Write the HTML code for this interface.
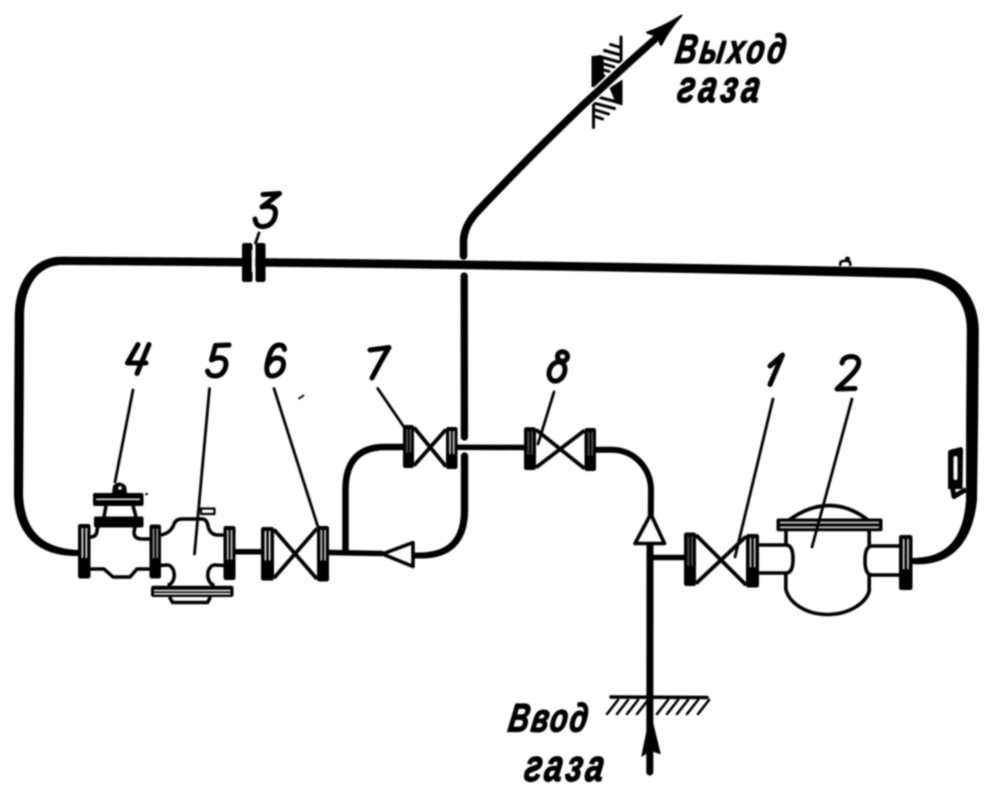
<!DOCTYPE html>
<html><head><meta charset="utf-8"><style>
html,body{margin:0;padding:0;background:#fff;width:1000px;height:800px;overflow:hidden;position:relative}
#clip{position:relative;width:1000px;height:800px;overflow:hidden}
#wrap{position:absolute;left:0;top:0;width:2000px;height:1600px;transform:scale(0.5);transform-origin:0 0;will-change:transform}
#wrap svg{display:block;filter:blur(1.4px)}
text{font-family:"Liberation Sans",sans-serif}
</style></head><body>
<div id="clip"><div id="wrap"><svg width="2000" height="1600" viewBox="0 0 1000 800">
<rect width="1000" height="800" fill="#fff"/>
<g>
<g fill="none" stroke="#000" stroke-linecap="round" stroke-linejoin="round">
</g>
<path d="M80.00,550.00 L79.00,549.98 L78.05,549.95 L76.13,549.85 L74.24,549.72 L72.38,549.55 L70.57,549.36 L68.79,549.13 L67.05,548.87 L65.34,548.57 L63.68,548.25 L62.05,547.89 L60.46,547.51 L58.90,547.09 L57.39,546.64 L55.91,546.16 L54.46,545.65 L53.06,545.11 L51.69,544.55 L50.35,543.96 L49.05,543.34 L47.78,542.70 L46.55,542.02 L45.36,541.32 L44.20,540.58 L43.07,539.82 L41.97,539.03 L40.91,538.21 L39.89,537.35 L38.89,536.47 L37.93,535.56 L37.00,534.62 L36.10,533.65 L35.23,532.65 L34.39,531.61 L33.58,530.55 L32.81,529.45 L32.06,528.32 L31.34,527.16 L30.65,525.97 L30.00,524.74 L29.37,523.48 L28.77,522.19 L28.21,520.86 L27.67,519.50 L27.16,518.10 L26.69,516.67 L26.24,515.20 L25.83,513.69 L25.42,512.16 L25.04,510.59 L24.69,508.98 L24.38,507.34 L24.09,505.66 L23.84,503.94 L23.61,502.19 L23.42,500.40 L23.26,498.57 L23.14,496.70 L23.04,494.89 L23.06,493.01 L23.07,491.00 L23.09,488.99 L23.10,486.98 L23.12,484.97 L23.13,482.96 L23.15,480.94 L23.16,478.93 L23.18,476.92 L23.19,474.91 L23.20,472.90 L23.22,470.89 L23.23,468.88 L23.25,466.86 L23.26,464.85 L23.28,462.84 L23.29,460.83 L23.31,458.82 L23.32,456.81 L23.34,454.80 L23.35,452.78 L23.37,450.77 L23.38,448.76 L23.39,446.75 L23.41,444.74 L23.42,442.73 L23.44,440.72 L23.45,438.71 L23.47,436.69 L23.48,434.68 L23.50,432.67 L23.51,430.66 L23.53,428.65 L23.54,426.64 L23.56,424.63 L23.57,422.61 L23.58,420.60 L23.60,418.59 L23.61,416.58 L23.63,414.57 L23.64,412.56 L23.66,410.55 L23.67,408.54 L23.69,406.52 L23.70,404.51 L23.72,402.50 L23.73,400.49 L23.74,398.48 L23.75,396.47 L23.75,394.46 L23.76,392.44 L23.77,390.43 L23.78,388.42 L23.79,386.41 L23.79,384.40 L23.80,382.39 L23.81,380.38 L23.82,378.36 L23.82,376.35 L23.83,374.34 L23.84,372.33 L23.85,370.32 L23.86,368.31 L23.86,366.30 L23.87,364.29 L23.88,362.27 L23.89,360.26 L23.89,358.25 L23.90,356.24 L23.91,354.23 L23.92,352.22 L23.93,350.21 L23.93,348.19 L23.94,346.18 L23.95,344.17 L23.96,342.16 L23.96,340.15 L23.97,338.14 L23.98,336.13 L23.99,334.11 L24.00,332.10 L24.00,330.09 L24.01,328.08 L24.02,326.07 L24.03,324.06 L24.03,322.05 L24.04,320.04 L24.05,318.01 L24.04,315.81 L24.07,313.71 L24.15,311.64 L24.28,309.61 L24.45,307.60 L24.68,305.64 L24.94,303.70 L25.25,301.81 L25.61,299.95 L26.01,298.13 L26.45,296.35 L26.94,294.61 L27.47,292.91 L28.04,291.26 L28.65,289.65 L29.30,288.09 L29.99,286.57 L30.71,285.09 L31.48,283.67 L32.28,282.29 L33.12,280.96 L34.00,279.68 L34.91,278.45 L35.86,277.27 L36.84,276.14 L37.85,275.06 L38.90,274.03 L39.98,273.05 L41.10,272.13 L42.25,271.26 L43.43,270.44 L44.65,269.68 L45.90,268.97 L47.18,268.31 L48.50,267.71 L49.86,267.17 L51.25,266.68 L52.68,266.25 L54.14,265.88 L55.64,265.57 L57.18,265.32 L58.76,265.13 L60.38,265.01 L62.04,264.95 L63.98,264.96 L65.98,264.98 L67.98,264.99 L69.98,265.00 L71.99,265.02 L73.99,265.03 L75.99,265.04 L77.99,265.06 L79.99,265.07 L82.00,265.08 L84.00,265.10 L86.00,265.11 L88.00,265.13 L90.01,265.14 L92.01,265.15 L94.01,265.17 L96.01,265.18 L98.01,265.20 L100.02,265.21 L102.02,265.23 L104.02,265.24 L106.02,265.26 L108.02,265.27 L110.03,265.29 L112.03,265.30 L114.03,265.32 L116.03,265.33 L118.04,265.35 L120.04,265.36 L122.04,265.38 L124.04,265.39 L126.04,265.41 L128.05,265.42 L130.05,265.44 L132.05,265.45 L134.05,265.47 L136.06,265.49 L138.06,265.50 L140.06,265.52 L142.06,265.53 L144.06,265.55 L146.07,265.57 L148.07,265.58 L150.07,265.60 L152.07,265.62 L154.07,265.63 L156.08,265.65 L158.08,265.67 L160.08,265.68 L162.08,265.70 L164.09,265.72 L166.09,265.73 L168.09,265.75 L170.09,265.77 L172.09,265.79 L174.10,265.80 L176.10,265.82 L178.10,265.84 L180.10,265.86 L182.11,265.87 L184.11,265.89 L186.11,265.91 L188.11,265.93 L190.11,265.95 L192.12,265.96 L194.12,265.98 L196.12,266.00 L198.12,266.02 L200.12,266.04 L202.13,266.05 L204.13,266.07 L206.13,266.09 L208.13,266.11 L210.14,266.13 L212.14,266.15 L214.14,266.17 L216.14,266.19 L218.14,266.21 L220.15,266.22 L222.15,266.24 L224.15,266.26 L226.15,266.28 L228.16,266.30 L230.16,266.32 L232.16,266.34 L234.16,266.36 L236.16,266.38 L238.17,266.40 L240.17,266.42 L242.17,266.44 L244.17,266.46 L246.17,266.48 L248.18,266.50 L250.18,266.52 L252.18,266.54 L254.18,266.56 L256.19,266.58 L258.19,266.60 L260.19,266.62 L262.19,266.65 L264.19,266.67 L266.20,266.69 L268.20,266.71 L270.20,266.73 L272.20,266.75 L274.21,266.77 L276.21,266.79 L278.21,266.82 L280.21,266.84 L282.21,266.86 L284.22,266.88 L286.22,266.90 L288.22,266.92 L290.22,266.95 L292.22,266.97 L294.23,266.99 L296.23,267.01 L298.23,267.03 L300.23,267.06 L302.24,267.08 L304.24,267.10 L306.24,267.12 L308.24,267.15 L310.24,267.17 L312.25,267.19 L314.25,267.22 L316.25,267.24 L318.25,267.26 L320.26,267.29 L322.26,267.31 L324.26,267.33 L326.26,267.36 L328.26,267.38 L330.27,267.40 L332.27,267.43 L334.27,267.45 L336.27,267.47 L338.27,267.50 L340.28,267.52 L342.28,267.55 L344.28,267.57 L346.28,267.59 L348.29,267.62 L350.29,267.64 L352.29,267.67 L354.29,267.69 L356.29,267.72 L358.30,267.74 L360.30,267.77 L362.30,267.79 L364.30,267.82 L366.31,267.84 L368.31,267.87 L370.31,267.89 L372.31,267.92 L374.31,267.94 L376.32,267.97 L378.32,267.99 L380.32,268.02 L382.32,268.05 L384.32,268.07 L386.33,268.10 L388.33,268.12 L390.33,268.15 L392.33,268.17 L394.34,268.20 L396.34,268.23 L398.34,268.25 L400.34,268.28 L402.34,268.31 L404.35,268.33 L406.35,268.36 L408.35,268.39 L410.35,268.41 L412.36,268.44 L414.36,268.47 L416.36,268.49 L418.36,268.52 L420.36,268.55 L422.37,268.58 L424.37,268.60 L426.37,268.63 L428.37,268.66 L430.37,268.69 L432.38,268.71 L434.38,268.74 L436.38,268.77 L438.38,268.80 L440.39,268.82 L442.39,268.85 L444.39,268.88 L446.39,268.91 L448.39,268.94 L450.40,268.97 L452.40,268.99 L454.40,269.02 L456.40,269.05 L458.40,269.08 L460.41,269.11 L462.41,269.14 L464.41,269.17 L466.41,269.19 L468.42,269.22 L470.42,269.25 L472.42,269.28 L474.42,269.31 L476.42,269.34 L478.43,269.37 L480.43,269.40 L482.43,269.43 L484.43,269.46 L486.44,269.49 L488.44,269.52 L490.44,269.55 L492.44,269.58 L494.44,269.61 L496.45,269.64 L498.45,269.67 L500.45,269.70 L502.45,269.73 L504.45,269.76 L506.46,269.79 L508.46,269.82 L510.46,269.85 L512.46,269.88 L514.47,269.91 L516.47,269.94 L518.47,269.98 L520.47,270.01 L522.47,270.04 L524.48,270.07 L526.48,270.10 L528.48,270.13 L530.48,270.16 L532.48,270.19 L534.49,270.23 L536.49,270.26 L538.49,270.29 L540.49,270.32 L542.50,270.35 L544.50,270.39 L546.50,270.42 L548.50,270.45 L550.50,270.48 L552.51,270.51 L554.51,270.55 L556.51,270.58 L558.51,270.61 L560.52,270.64 L562.52,270.68 L564.52,270.71 L566.52,270.74 L568.52,270.78 L570.53,270.81 L572.53,270.84 L574.53,270.88 L576.53,270.91 L578.53,270.94 L580.54,270.98 L582.54,271.01 L584.54,271.04 L586.54,271.08 L588.55,271.11 L590.55,271.14 L592.55,271.18 L594.55,271.21 L596.55,271.25 L598.56,271.28 L600.56,271.31 L602.56,271.35 L604.56,271.39 L606.56,271.42 L608.57,271.46 L610.57,271.50 L612.57,271.53 L614.57,271.57 L616.58,271.61 L618.58,271.64 L620.58,271.68 L622.58,271.72 L624.58,271.75 L626.59,271.79 L628.59,271.83 L630.59,271.87 L632.59,271.90 L634.59,271.94 L636.60,271.98 L638.60,272.02 L640.60,272.05 L642.60,272.09 L644.61,272.13 L646.61,272.17 L648.61,272.21 L650.61,272.24 L652.61,272.28 L654.62,272.32 L656.62,272.36 L658.62,272.40 L660.62,272.44 L662.62,272.48 L664.63,272.51 L666.63,272.55 L668.63,272.59 L670.63,272.63 L672.63,272.67 L674.64,272.71 L676.64,272.75 L678.64,272.79 L680.64,272.83 L682.65,272.87 L684.65,272.91 L686.65,272.95 L688.65,272.98 L690.65,273.02 L692.66,273.06 L694.66,273.10 L696.66,273.14 L698.66,273.18 L700.66,273.22 L702.67,273.26 L704.67,273.30 L706.67,273.35 L708.67,273.39 L710.67,273.43 L712.68,273.47 L714.68,273.51 L716.68,273.55 L718.68,273.59 L720.69,273.63 L722.69,273.67 L724.69,273.71 L726.69,273.75 L728.69,273.79 L730.70,273.84 L732.70,273.88 L734.70,273.92 L736.70,273.96 L738.70,274.00 L740.71,274.04 L742.71,274.09 L744.71,274.13 L746.71,274.17 L748.72,274.21 L750.72,274.25 L752.72,274.30 L754.72,274.34 L756.72,274.38 L758.73,274.42 L760.73,274.46 L762.73,274.51 L764.73,274.55 L766.73,274.59 L768.74,274.64 L770.74,274.68 L772.74,274.72 L774.74,274.76 L776.74,274.81 L778.75,274.85 L780.75,274.89 L782.75,274.94 L784.75,274.98 L786.76,275.02 L788.76,275.07 L790.76,275.11 L792.76,275.15 L794.76,275.20 L796.77,275.24 L798.77,275.29 L800.77,275.33 L802.77,275.38 L804.77,275.42 L806.78,275.47 L808.78,275.52 L810.78,275.56 L812.78,275.61 L814.78,275.66 L816.79,275.70 L818.79,275.75 L820.79,275.80 L822.79,275.84 L824.79,275.89 L826.80,275.94 L828.80,275.99 L830.80,276.03 L832.80,276.08 L834.80,276.13 L836.81,276.18 L838.81,276.22 L840.81,276.27 L842.81,276.32 L844.81,276.37 L846.82,276.42 L848.82,276.46 L850.82,276.51 L852.82,276.56 L854.83,276.61 L856.83,276.66 L858.83,276.71 L860.83,276.76 L862.83,276.80 L864.84,276.85 L866.84,276.90 L868.84,276.95 L870.84,277.00 L872.84,277.05 L874.85,277.10 L876.85,277.15 L878.85,277.20 L880.85,277.25 L882.85,277.30 L884.86,277.35 L886.86,277.40 L888.86,277.44 L890.86,277.49 L892.86,277.54 L894.87,277.59 L896.87,277.64 L898.87,277.69 L900.87,277.75 L902.87,277.80 L904.88,277.85 L906.88,277.90 L908.88,277.95 L910.88,278.00 L912.88,278.05 L914.81,278.10 L916.47,278.21 L918.15,278.36 L919.83,278.53 L921.49,278.75 L923.14,278.99 L924.77,279.27 L926.39,279.58 L927.98,279.93 L929.56,280.31 L931.11,280.72 L932.65,281.17 L934.16,281.66 L935.65,282.18 L937.11,282.73 L938.55,283.32 L939.96,283.95 L941.34,284.61 L942.70,285.31 L944.02,286.04 L945.32,286.81 L946.58,287.62 L947.81,288.46 L949.01,289.34 L950.18,290.26 L951.31,291.22 L952.41,292.21 L953.48,293.25 L954.51,294.32 L955.50,295.44 L956.46,296.60 L957.38,297.80 L958.27,299.05 L959.11,300.34 L959.92,301.67 L960.69,303.05 L961.42,304.48 L962.11,305.96 L962.75,307.49 L963.36,309.07 L963.91,310.70 L964.43,312.38 L964.90,314.12 L965.32,315.92 L965.69,317.77 L966.01,319.68 L966.28,321.65 L966.49,323.67 L966.65,325.76 L966.75,327.91 L966.80,330.09 L966.78,331.95 L966.77,333.95 L966.75,335.95 L966.74,337.95 L966.72,339.95 L966.71,341.95 L966.69,343.95 L966.68,345.95 L966.66,347.95 L966.65,349.95 L966.63,351.95 L966.62,353.95 L966.60,355.95 L966.59,357.95 L966.57,359.95 L966.56,361.95 L966.54,363.95 L966.52,365.95 L966.51,367.95 L966.49,369.95 L966.48,371.95 L966.46,373.95 L966.45,375.95 L966.43,377.95 L966.42,379.95 L966.40,381.95 L966.39,383.95 L966.37,385.95 L966.36,387.95 L966.34,389.95 L966.33,391.95 L966.31,393.95 L966.30,395.95 L966.28,397.95 L966.26,399.95 L966.25,401.95 L966.23,403.95 L966.22,405.95 L966.20,407.95 L966.19,409.95 L966.17,411.95 L966.16,413.95 L966.14,415.95 L966.13,417.95 L966.11,419.95 L966.11,421.95 L966.11,423.95 L966.10,425.95 L966.10,427.95 L966.10,429.95 L966.10,431.95 L966.09,433.95 L966.09,435.95 L966.09,437.95 L966.08,439.96 L966.08,441.96 L966.08,443.96 L966.08,445.96 L966.07,447.96 L966.07,449.96 L966.07,451.96 L966.06,453.96 L966.06,455.96 L966.06,457.96 L966.06,459.96 L966.05,461.96 L966.05,463.96 L966.05,465.96 L966.04,467.96 L966.04,469.96 L966.04,471.96 L966.04,473.96 L966.03,475.96 L966.03,477.96 L966.03,479.96 L966.03,481.96 L966.02,483.96 L966.02,485.96 L966.02,487.96 L966.01,489.96 L966.01,491.96 L966.01,493.96 L966.01,495.96 L966.00,497.96 L966.01,499.71 L965.87,501.59 L965.69,503.63 L965.49,505.63 L965.25,507.59 L964.99,509.51 L964.70,511.39 L964.38,513.23 L964.04,515.03 L963.66,516.79 L963.27,518.51 L962.84,520.19 L962.39,521.83 L961.91,523.43 L961.40,524.99 L960.87,526.51 L960.32,527.99 L959.73,529.43 L959.12,530.83 L958.49,532.19 L957.83,533.52 L957.14,534.80 L956.43,536.05 L955.70,537.26 L954.94,538.43 L954.15,539.57 L953.34,540.67 L952.50,541.73 L951.64,542.76 L950.75,543.75 L949.84,544.70 L948.90,545.62 L947.93,546.51 L946.94,547.36 L945.92,548.19 L944.88,548.97 L943.80,549.73 L942.70,550.45 L941.57,551.14 L940.40,551.79 L939.21,552.42 L937.99,553.01 L936.74,553.56 L935.45,554.08 L934.14,554.57 L932.79,555.03 L931.41,555.45 L929.99,555.84 L928.55,556.19 L927.07,556.51 L925.56,556.79 L924.02,557.04 L922.44,557.27 L920.83,557.46 L919.19,557.62 L917.51,557.75 L915.80,557.84 L914.01,557.89 L912.50,557.94 L911.00,558.00 A3.00,3.00 0 0 0 911.00,564.00 L911.00,564.00 L912.50,564.06 L913.99,564.11 L915.82,564.19 L917.67,564.24 L919.50,564.24 L921.31,564.20 L923.09,564.11 L924.85,563.99 L926.58,563.80 L928.29,563.57 L929.97,563.30 L931.63,562.99 L933.27,562.63 L934.88,562.23 L936.47,561.79 L938.03,561.30 L939.56,560.77 L941.07,560.19 L942.55,559.57 L944.01,558.90 L945.43,558.19 L946.83,557.44 L948.21,556.64 L949.55,555.80 L950.87,554.91 L952.15,553.98 L953.41,553.01 L954.63,551.99 L955.82,550.92 L956.98,549.81 L958.11,548.66 L959.21,547.47 L960.28,546.24 L961.31,544.96 L962.31,543.65 L963.28,542.29 L964.22,540.90 L965.13,539.46 L966.00,537.99 L966.84,536.47 L967.66,534.92 L968.43,533.33 L969.18,531.70 L969.90,530.03 L970.58,528.32 L971.24,526.58 L971.86,524.80 L972.45,522.98 L973.01,521.12 L973.54,519.23 L974.04,517.29 L974.51,515.32 L974.96,513.32 L975.37,511.27 L975.75,509.19 L976.10,507.07 L976.42,504.91 L976.71,502.72 L976.99,500.29 L977.03,498.04 L977.06,496.04 L977.08,494.04 L977.11,492.04 L977.14,490.04 L977.17,488.04 L977.19,486.04 L977.22,484.04 L977.25,482.04 L977.28,480.04 L977.31,478.04 L977.33,476.04 L977.36,474.04 L977.39,472.04 L977.42,470.04 L977.44,468.04 L977.47,466.04 L977.50,464.04 L977.53,462.04 L977.56,460.04 L977.58,458.04 L977.61,456.04 L977.64,454.04 L977.67,452.04 L977.69,450.04 L977.72,448.04 L977.75,446.04 L977.78,444.04 L977.81,442.04 L977.83,440.04 L977.86,438.05 L977.89,436.05 L977.92,434.05 L977.94,432.05 L977.97,430.05 L978.00,428.05 L978.03,426.05 L978.06,424.05 L978.08,422.05 L978.11,420.05 L978.13,418.05 L978.14,416.05 L978.16,414.05 L978.17,412.05 L978.19,410.05 L978.20,408.05 L978.22,406.05 L978.23,404.05 L978.25,402.05 L978.26,400.05 L978.28,398.05 L978.30,396.05 L978.31,394.05 L978.33,392.05 L978.34,390.05 L978.36,388.05 L978.37,386.05 L978.39,384.05 L978.40,382.05 L978.42,380.05 L978.43,378.05 L978.45,376.05 L978.46,374.05 L978.48,372.05 L978.49,370.05 L978.51,368.05 L978.52,366.05 L978.54,364.05 L978.56,362.05 L978.57,360.05 L978.59,358.05 L978.60,356.05 L978.62,354.05 L978.63,352.05 L978.65,350.05 L978.66,348.05 L978.68,346.05 L978.69,344.05 L978.71,342.05 L978.72,340.05 L978.74,338.05 L978.75,336.05 L978.77,334.05 L978.78,332.05 L978.80,329.91 L978.69,327.35 L978.51,324.87 L978.27,322.45 L977.96,320.08 L977.59,317.77 L977.15,315.51 L976.66,313.31 L976.10,311.16 L975.48,309.06 L974.81,307.02 L974.07,305.03 L973.28,303.09 L972.43,301.21 L971.53,299.39 L970.58,297.62 L969.57,295.90 L968.51,294.24 L967.40,292.63 L966.24,291.08 L965.04,289.59 L963.79,288.15 L962.50,286.76 L961.17,285.43 L959.80,284.15 L958.39,282.93 L956.94,281.76 L955.46,280.65 L953.95,279.59 L952.41,278.58 L950.84,277.62 L949.23,276.71 L947.61,275.85 L945.95,275.05 L944.28,274.29 L942.58,273.57 L940.86,272.91 L939.12,272.29 L937.36,271.72 L935.59,271.19 L933.79,270.71 L931.99,270.27 L930.17,269.87 L928.33,269.51 L926.49,269.19 L924.63,268.92 L922.77,268.68 L920.90,268.48 L919.01,268.32 L917.13,268.19 L915.19,268.10 L913.11,268.06 L911.11,268.02 L909.11,267.98 L907.10,267.94 L905.10,267.90 L903.10,267.86 L901.10,267.82 L899.09,267.78 L897.09,267.74 L895.09,267.70 L893.08,267.66 L891.08,267.62 L889.08,267.58 L887.08,267.55 L885.07,267.51 L883.07,267.47 L881.07,267.43 L879.07,267.39 L877.06,267.35 L875.06,267.31 L873.06,267.27 L871.06,267.23 L869.05,267.20 L867.05,267.16 L865.05,267.12 L863.04,267.08 L861.04,267.04 L859.04,267.00 L857.04,266.97 L855.03,266.93 L853.03,266.89 L851.03,266.85 L849.03,266.81 L847.02,266.78 L845.02,266.74 L843.02,266.70 L841.02,266.66 L839.01,266.63 L837.01,266.59 L835.01,266.55 L833.00,266.52 L831.00,266.48 L829.00,266.44 L827.00,266.40 L824.99,266.37 L822.99,266.33 L820.99,266.29 L818.99,266.26 L816.98,266.22 L814.98,266.18 L812.98,266.15 L810.98,266.11 L808.97,266.08 L806.97,266.04 L804.97,266.00 L802.97,265.97 L800.96,265.93 L798.96,265.89 L796.96,265.86 L794.95,265.82 L792.95,265.78 L790.95,265.74 L788.95,265.71 L786.94,265.67 L784.94,265.63 L782.94,265.59 L780.94,265.56 L778.93,265.52 L776.93,265.48 L774.93,265.44 L772.93,265.41 L770.92,265.37 L768.92,265.33 L766.92,265.30 L764.92,265.26 L762.91,265.22 L760.91,265.19 L758.91,265.15 L756.91,265.11 L754.90,265.08 L752.90,265.04 L750.90,265.00 L748.90,264.97 L746.89,264.93 L744.89,264.90 L742.89,264.86 L740.88,264.83 L738.88,264.79 L736.88,264.75 L734.88,264.72 L732.87,264.68 L730.87,264.65 L728.87,264.61 L726.87,264.58 L724.86,264.54 L722.86,264.51 L720.86,264.47 L718.86,264.44 L716.85,264.40 L714.85,264.37 L712.85,264.33 L710.85,264.30 L708.84,264.26 L706.84,264.23 L704.84,264.19 L702.84,264.16 L700.83,264.13 L698.83,264.09 L696.83,264.06 L694.83,264.02 L692.82,263.99 L690.82,263.96 L688.82,263.92 L686.82,263.89 L684.81,263.86 L682.81,263.82 L680.81,263.79 L678.80,263.75 L676.80,263.72 L674.80,263.69 L672.80,263.66 L670.79,263.62 L668.79,263.59 L666.79,263.56 L664.79,263.52 L662.78,263.49 L660.78,263.46 L658.78,263.43 L656.78,263.39 L654.77,263.36 L652.77,263.33 L650.77,263.30 L648.77,263.26 L646.76,263.23 L644.76,263.20 L642.76,263.17 L640.76,263.14 L638.75,263.10 L636.75,263.07 L634.75,263.04 L632.75,263.01 L630.74,262.98 L628.74,262.95 L626.74,262.92 L624.74,262.88 L622.73,262.85 L620.73,262.82 L618.73,262.79 L616.73,262.76 L614.72,262.73 L612.72,262.70 L610.72,262.67 L608.71,262.64 L606.71,262.61 L604.71,262.58 L602.71,262.55 L600.70,262.52 L598.70,262.48 L596.70,262.45 L594.70,262.42 L592.69,262.39 L590.69,262.35 L588.69,262.32 L586.69,262.29 L584.68,262.26 L582.68,262.23 L580.68,262.20 L578.68,262.17 L576.67,262.13 L574.67,262.10 L572.67,262.07 L570.67,262.04 L568.66,262.01 L566.66,261.98 L564.66,261.95 L562.66,261.92 L560.65,261.89 L558.65,261.86 L556.65,261.82 L554.65,261.79 L552.64,261.76 L550.64,261.73 L548.64,261.70 L546.64,261.67 L544.63,261.64 L542.63,261.61 L540.63,261.58 L538.63,261.55 L536.62,261.52 L534.62,261.49 L532.62,261.46 L530.62,261.43 L528.61,261.40 L526.61,261.38 L524.61,261.35 L522.61,261.32 L520.60,261.29 L518.60,261.26 L516.60,261.23 L514.60,261.20 L512.59,261.17 L510.59,261.14 L508.59,261.11 L506.59,261.09 L504.58,261.06 L502.58,261.03 L500.58,261.00 L498.58,260.97 L496.57,260.94 L494.57,260.92 L492.57,260.89 L490.57,260.86 L488.56,260.83 L486.56,260.80 L484.56,260.78 L482.56,260.75 L480.55,260.72 L478.55,260.69 L476.55,260.67 L474.54,260.64 L472.54,260.61 L470.54,260.58 L468.54,260.56 L466.53,260.53 L464.53,260.50 L462.53,260.48 L460.53,260.45 L458.52,260.42 L456.52,260.40 L454.52,260.37 L452.52,260.34 L450.51,260.32 L448.51,260.29 L446.51,260.26 L444.51,260.24 L442.50,260.21 L440.50,260.18 L438.50,260.16 L436.50,260.13 L434.49,260.11 L432.49,260.08 L430.49,260.06 L428.49,260.03 L426.48,260.00 L424.48,259.98 L422.48,259.95 L420.48,259.93 L418.47,259.90 L416.47,259.88 L414.47,259.85 L412.47,259.83 L410.46,259.80 L408.46,259.78 L406.46,259.75 L404.46,259.73 L402.45,259.71 L400.45,259.68 L398.45,259.66 L396.45,259.63 L394.44,259.61 L392.44,259.58 L390.44,259.56 L388.44,259.54 L386.43,259.51 L384.43,259.49 L382.43,259.46 L380.43,259.44 L378.42,259.42 L376.42,259.39 L374.42,259.37 L372.42,259.35 L370.41,259.32 L368.41,259.30 L366.41,259.28 L364.41,259.25 L362.40,259.23 L360.40,259.21 L358.40,259.18 L356.40,259.16 L354.39,259.14 L352.39,259.12 L350.39,259.09 L348.39,259.07 L346.38,259.05 L344.38,259.03 L342.38,259.01 L340.38,258.98 L338.37,258.96 L336.37,258.94 L334.37,258.92 L332.37,258.90 L330.36,258.87 L328.36,258.85 L326.36,258.83 L324.36,258.81 L322.35,258.79 L320.35,258.77 L318.35,258.74 L316.35,258.72 L314.34,258.70 L312.34,258.68 L310.34,258.66 L308.34,258.64 L306.33,258.62 L304.33,258.60 L302.33,258.58 L300.33,258.56 L298.32,258.54 L296.32,258.52 L294.32,258.50 L292.31,258.47 L290.31,258.45 L288.31,258.43 L286.31,258.41 L284.30,258.39 L282.30,258.37 L280.30,258.35 L278.30,258.33 L276.29,258.31 L274.29,258.29 L272.29,258.28 L270.29,258.26 L268.28,258.24 L266.28,258.22 L264.28,258.20 L262.28,258.18 L260.27,258.16 L258.27,258.14 L256.27,258.12 L254.27,258.10 L252.26,258.08 L250.26,258.06 L248.26,258.05 L246.26,258.03 L244.25,258.01 L242.25,257.99 L240.25,257.97 L238.25,257.95 L236.24,257.94 L234.24,257.92 L232.24,257.90 L230.24,257.88 L228.23,257.86 L226.23,257.85 L224.23,257.83 L222.23,257.81 L220.22,257.79 L218.22,257.77 L216.22,257.76 L214.22,257.74 L212.21,257.72 L210.21,257.71 L208.21,257.69 L206.21,257.67 L204.20,257.65 L202.20,257.64 L200.20,257.62 L198.20,257.60 L196.19,257.59 L194.19,257.57 L192.19,257.55 L190.19,257.54 L188.18,257.52 L186.18,257.51 L184.18,257.49 L182.18,257.47 L180.17,257.46 L178.17,257.44 L176.17,257.43 L174.17,257.41 L172.16,257.39 L170.16,257.38 L168.16,257.36 L166.16,257.35 L164.15,257.33 L162.15,257.32 L160.15,257.30 L158.15,257.29 L156.14,257.27 L154.14,257.26 L152.14,257.24 L150.14,257.23 L148.13,257.21 L146.13,257.20 L144.13,257.18 L142.13,257.17 L140.12,257.15 L138.12,257.14 L136.12,257.12 L134.12,257.11 L132.11,257.10 L130.11,257.08 L128.11,257.07 L126.11,257.05 L124.10,257.04 L122.10,257.03 L120.10,257.01 L118.10,257.00 L116.09,256.99 L114.09,256.97 L112.09,256.96 L110.09,256.95 L108.08,256.93 L106.08,256.92 L104.08,256.91 L102.08,256.89 L100.07,256.88 L98.07,256.87 L96.07,256.85 L94.07,256.84 L92.06,256.83 L90.06,256.82 L88.06,256.80 L86.06,256.79 L84.05,256.78 L82.05,256.77 L80.05,256.76 L78.05,256.74 L76.04,256.73 L74.04,256.72 L72.04,256.71 L70.04,256.70 L68.03,256.68 L66.03,256.67 L64.03,256.66 L61.96,256.65 L59.98,256.69 L58.01,256.81 L56.08,257.02 L54.18,257.30 L52.32,257.66 L50.49,258.09 L48.69,258.60 L46.93,259.19 L45.22,259.85 L43.54,260.59 L41.90,261.39 L40.30,262.27 L38.75,263.21 L37.24,264.22 L35.77,265.30 L34.36,266.44 L32.99,267.64 L31.66,268.90 L30.38,270.22 L29.16,271.60 L27.98,273.03 L26.85,274.52 L25.77,276.06 L24.74,277.65 L23.76,279.28 L22.83,280.97 L21.95,282.70 L21.12,284.48 L20.34,286.30 L19.61,288.16 L18.93,290.06 L18.30,292.01 L17.73,293.99 L17.20,296.01 L16.72,298.06 L16.30,300.16 L15.92,302.28 L15.60,304.44 L15.33,306.64 L15.11,308.86 L14.94,311.12 L14.82,313.40 L14.76,315.72 L14.75,317.99 L14.74,319.99 L14.72,322.00 L14.71,324.01 L14.70,326.02 L14.69,328.03 L14.67,330.04 L14.66,332.06 L14.65,334.07 L14.64,336.08 L14.62,338.09 L14.61,340.10 L14.60,342.11 L14.59,344.12 L14.57,346.14 L14.56,348.15 L14.55,350.16 L14.53,352.17 L14.52,354.18 L14.51,356.19 L14.50,358.20 L14.48,360.21 L14.47,362.23 L14.46,364.24 L14.45,366.25 L14.43,368.26 L14.42,370.27 L14.41,372.28 L14.40,374.29 L14.38,376.31 L14.37,378.32 L14.36,380.33 L14.34,382.34 L14.33,384.35 L14.32,386.36 L14.31,388.37 L14.29,390.39 L14.28,392.40 L14.27,394.41 L14.26,396.42 L14.24,398.43 L14.23,400.44 L14.22,402.45 L14.22,404.46 L14.21,406.48 L14.21,408.49 L14.20,410.50 L14.20,412.51 L14.19,414.52 L14.18,416.53 L14.18,418.54 L14.17,420.56 L14.17,422.57 L14.16,424.58 L14.15,426.59 L14.15,428.60 L14.14,430.61 L14.14,432.62 L14.13,434.64 L14.13,436.65 L14.12,438.66 L14.11,440.67 L14.11,442.68 L14.10,444.69 L14.10,446.70 L14.09,448.72 L14.08,450.73 L14.08,452.74 L14.07,454.75 L14.07,456.76 L14.06,458.77 L14.06,460.78 L14.05,462.79 L14.04,464.81 L14.04,466.82 L14.03,468.83 L14.03,470.84 L14.02,472.85 L14.01,474.86 L14.01,476.87 L14.00,478.89 L14.00,480.90 L13.99,482.91 L13.99,484.92 L13.98,486.93 L13.97,488.94 L13.97,490.95 L13.96,492.97 L13.96,495.11 L14.07,497.26 L14.22,499.29 L14.41,501.29 L14.62,503.26 L14.88,505.20 L15.17,507.10 L15.49,508.97 L15.86,510.81 L16.26,512.62 L16.69,514.39 L17.16,516.14 L17.70,517.84 L18.26,519.51 L18.87,521.15 L19.51,522.75 L20.19,524.32 L20.90,525.85 L21.66,527.35 L22.45,528.81 L23.27,530.24 L24.14,531.64 L25.04,532.99 L25.98,534.31 L26.95,535.60 L27.96,536.84 L29.01,538.05 L30.10,539.22 L31.22,540.35 L32.38,541.45 L33.57,542.50 L34.79,543.52 L36.05,544.50 L37.35,545.43 L38.68,546.33 L40.04,547.19 L41.44,548.01 L42.87,548.79 L44.33,549.52 L45.82,550.22 L47.34,550.89 L48.90,551.51 L50.49,552.08 L52.11,552.61 L53.76,553.10 L55.44,553.55 L57.16,553.97 L58.90,554.34 L60.67,554.68 L62.47,554.98 L64.30,555.25 L66.16,555.47 L68.05,555.66 L69.97,555.81 L71.92,555.93 L73.90,556.00 L75.91,556.04 L77.95,556.05 L79.00,556.02 L80.00,556.00 A3.00,3.00 0 0 0 80.00,550.00 Z" fill="#000"/>
<g fill="none" stroke="#000" stroke-linecap="round" stroke-linejoin="round">
</g>
<path d="M467.25,256.00 L467.26,254.00 L467.26,252.00 L467.27,250.00 L467.27,248.00 L467.28,246.00 L467.29,244.00 L467.29,242.05 L467.34,240.44 L467.46,238.88 L467.67,237.32 L467.95,235.77 L468.32,234.21 L468.77,232.64 L469.30,231.08 L469.91,229.51 L470.61,227.93 L471.39,226.35 L472.26,224.76 L473.22,223.17 L474.27,221.57 L475.40,219.97 L476.62,218.36 L477.94,216.75 L479.34,215.14 L480.86,213.50 L482.28,211.99 L483.72,210.46 L485.16,208.94 L486.60,207.42 L488.04,205.90 L489.48,204.38 L490.92,202.86 L492.37,201.35 L493.81,199.84 L495.25,198.33 L496.69,196.82 L498.13,195.32 L499.57,193.82 L501.01,192.32 L502.46,190.82 L503.90,189.32 L505.34,187.83 L506.78,186.33 L508.22,184.84 L509.66,183.36 L511.10,181.87 L512.54,180.39 L513.99,178.90 L515.43,177.43 L516.87,175.95 L518.31,174.47 L519.75,173.00 L521.19,171.53 L522.63,170.06 L524.07,168.59 L525.52,167.13 L526.96,165.67 L528.40,164.21 L529.84,162.75 L531.28,161.29 L532.72,159.84 L534.16,158.39 L535.60,156.94 L537.05,155.49 L538.49,154.04 L539.93,152.60 L541.37,151.16 L542.81,149.72 L544.25,148.28 L545.69,146.85 L547.13,145.41 L548.57,143.98 L550.02,142.55 L551.46,141.13 L552.90,139.70 L554.34,138.28 L555.78,136.86 L557.22,135.44 L558.66,134.03 L560.10,132.61 L561.55,131.20 L562.99,129.79 L564.43,128.39 L565.87,126.98 L567.31,125.58 L568.75,124.18 L570.20,122.78 L571.64,121.38 L573.08,119.99 L574.52,118.60 L575.96,117.21 L577.40,115.82 L578.85,114.43 L580.29,113.05 L581.73,111.67 L583.17,110.29 L584.61,108.91 L586.05,107.54 L587.50,106.16 L588.94,104.79 L590.38,103.42 L591.82,102.06 L593.26,100.69 L594.70,99.33 L596.15,97.97 L597.59,96.61 L599.03,95.26 L600.47,93.90 L601.91,92.55 L603.35,91.20 L604.80,89.85 L606.24,88.51 L607.68,87.17 L609.12,85.82 L610.56,84.49 L612.00,83.15 L613.45,81.81 L614.89,80.48 L616.33,79.15 L617.77,77.82 L619.21,76.50 L620.65,75.17 L622.10,73.85 L623.54,72.53 L624.98,71.21 L626.42,69.90 L627.86,68.58 L629.30,67.27 L630.75,65.96 L632.19,64.66 L633.63,63.35 L635.07,62.05 L636.51,60.75 L637.95,59.45 L639.40,58.15 L640.84,56.86 L642.28,55.56 L643.71,54.26 L645.14,52.96 L646.57,51.66 L648.00,50.37 L649.43,49.07 L650.86,47.78 L652.29,46.49 L653.72,45.20 L655.15,43.91 L656.58,42.63 L658.01,41.35 L659.44,40.07 L660.87,38.79 L662.30,37.51 A3.50,3.50 0 0 0 657.70,32.25 L657.70,32.25 L656.24,33.50 L654.78,34.75 L653.32,36.01 L651.86,37.27 L650.40,38.53 L648.95,39.79 L647.49,41.06 L646.03,42.33 L644.57,43.60 L643.11,44.87 L641.65,46.14 L640.19,47.42 L638.74,48.70 L637.28,49.98 L635.83,51.27 L634.38,52.57 L632.94,53.87 L631.49,55.17 L630.04,56.47 L628.59,57.78 L627.15,59.09 L625.70,60.40 L624.25,61.71 L622.80,63.02 L621.36,64.34 L619.91,65.66 L618.46,66.98 L617.01,68.30 L615.57,69.62 L614.12,70.95 L612.67,72.28 L611.23,73.61 L609.78,74.94 L608.33,76.28 L606.88,77.62 L605.44,78.96 L603.99,80.30 L602.54,81.64 L601.10,82.99 L599.65,84.34 L598.20,85.69 L596.75,87.04 L595.31,88.39 L593.86,89.75 L592.41,91.11 L590.96,92.47 L589.52,93.83 L588.07,95.20 L586.62,96.56 L585.18,97.93 L583.73,99.31 L582.28,100.68 L580.83,102.05 L579.39,103.43 L577.94,104.81 L576.49,106.19 L575.05,107.58 L573.60,108.96 L572.15,110.35 L570.70,111.74 L569.26,113.14 L567.81,114.53 L566.36,115.93 L564.92,117.33 L563.47,118.73 L562.02,120.13 L560.57,121.54 L559.13,122.94 L557.68,124.35 L556.23,125.76 L554.78,127.18 L553.34,128.59 L551.89,130.01 L550.44,131.43 L548.99,132.85 L547.55,134.27 L546.10,135.70 L544.65,137.13 L543.20,138.56 L541.76,139.99 L540.31,141.42 L538.86,142.86 L537.41,144.30 L535.96,145.74 L534.52,147.18 L533.07,148.63 L531.62,150.08 L530.17,151.52 L528.73,152.98 L527.28,154.43 L525.83,155.88 L524.38,157.34 L522.94,158.80 L521.49,160.26 L520.04,161.73 L518.59,163.19 L517.15,164.66 L515.70,166.13 L514.25,167.61 L512.80,169.08 L511.35,170.56 L509.91,172.04 L508.46,173.52 L507.01,175.00 L505.56,176.48 L504.12,177.97 L502.67,179.46 L501.22,180.95 L499.77,182.45 L498.33,183.94 L496.88,185.44 L495.43,186.94 L493.98,188.44 L492.54,189.95 L491.09,191.45 L489.64,192.96 L488.19,194.47 L486.74,195.98 L485.30,197.50 L483.85,199.02 L482.40,200.54 L480.95,202.06 L479.51,203.58 L478.06,205.11 L476.61,206.63 L475.14,208.18 L473.53,209.96 L471.98,211.77 L470.51,213.58 L469.14,215.41 L467.86,217.24 L466.67,219.09 L465.57,220.94 L464.56,222.81 L463.64,224.69 L462.82,226.58 L462.09,228.48 L461.46,230.39 L460.92,232.31 L460.48,234.23 L460.14,236.17 L459.90,238.11 L459.75,240.05 L459.71,241.95 L459.71,244.00 L459.72,246.00 L459.73,248.00 L459.73,250.00 L459.74,252.00 L459.74,254.00 L459.75,256.00 A3.75,3.75 0 0 0 467.25,256.00 Z" fill="#000"/>
<path d="M460.55,276.00 L460.55,278.02 L460.56,280.03 L460.56,282.04 L460.56,284.05 L460.56,286.07 L460.57,288.08 L460.57,290.09 L460.57,292.10 L460.57,294.12 L460.58,296.13 L460.58,298.14 L460.58,300.15 L460.58,302.17 L460.59,304.18 L460.59,306.19 L460.59,308.20 L460.59,310.22 L460.60,312.23 L460.60,314.24 L460.60,316.25 L460.60,318.27 L460.61,320.28 L460.61,322.29 L460.61,324.30 L460.61,326.32 L460.62,328.33 L460.62,330.34 L460.62,332.35 L460.62,334.37 L460.63,336.38 L460.63,338.39 L460.63,340.40 L460.63,342.42 L460.64,344.43 L460.64,346.44 L460.64,348.45 L460.64,350.47 L460.65,352.48 L460.65,354.49 L460.65,356.50 L460.65,358.52 L460.66,360.53 L460.66,362.54 L460.66,364.55 L460.66,366.57 L460.67,368.58 L460.67,370.59 L460.67,372.60 L460.67,374.62 L460.68,376.63 L460.68,378.64 L460.68,380.65 L460.68,382.67 L460.69,384.68 L460.69,386.69 L460.69,388.70 L460.69,390.72 L460.70,392.73 L460.70,394.74 L460.70,396.75 L460.70,398.77 L460.71,400.78 L460.71,402.79 L460.71,404.80 L460.71,406.82 L460.72,408.83 L460.72,410.84 L460.72,412.85 L460.72,414.87 L460.73,416.88 L460.73,418.89 L460.73,420.90 L460.73,422.92 L460.74,424.93 L460.74,426.94 L460.74,428.95 L460.74,430.97 L460.75,432.98 L460.75,434.99 L460.75,437.00 A3.65,3.65 0 0 0 468.05,437.00 L468.05,437.00 L468.05,434.98 L468.04,432.97 L468.04,430.96 L468.04,428.95 L468.04,426.93 L468.03,424.92 L468.03,422.91 L468.03,420.90 L468.03,418.88 L468.02,416.87 L468.02,414.86 L468.02,412.85 L468.02,410.83 L468.01,408.82 L468.01,406.81 L468.01,404.80 L468.01,402.78 L468.00,400.77 L468.00,398.76 L468.00,396.75 L468.00,394.73 L467.99,392.72 L467.99,390.71 L467.99,388.70 L467.99,386.68 L467.98,384.67 L467.98,382.66 L467.98,380.65 L467.98,378.63 L467.97,376.62 L467.97,374.61 L467.97,372.60 L467.97,370.58 L467.96,368.57 L467.96,366.56 L467.96,364.55 L467.96,362.53 L467.95,360.52 L467.95,358.51 L467.95,356.50 L467.95,354.48 L467.94,352.47 L467.94,350.46 L467.94,348.45 L467.94,346.43 L467.93,344.42 L467.93,342.41 L467.93,340.40 L467.93,338.38 L467.92,336.37 L467.92,334.36 L467.92,332.35 L467.92,330.33 L467.91,328.32 L467.91,326.31 L467.91,324.30 L467.91,322.28 L467.90,320.27 L467.90,318.26 L467.90,316.25 L467.90,314.23 L467.89,312.22 L467.89,310.21 L467.89,308.20 L467.89,306.18 L467.88,304.17 L467.88,302.16 L467.88,300.15 L467.88,298.13 L467.87,296.12 L467.87,294.11 L467.87,292.10 L467.87,290.08 L467.86,288.07 L467.86,286.06 L467.86,284.05 L467.86,282.03 L467.85,280.02 L467.85,278.01 L467.85,276.00 A3.65,3.65 0 0 0 460.55,276.00 Z" fill="#000"/>
<path d="M460.85,456.00 L460.85,458.00 L460.85,460.00 L460.85,462.00 L460.85,464.00 L460.85,466.00 L460.85,468.00 L460.85,470.00 L460.85,472.00 L460.85,474.00 L460.85,476.00 L460.85,478.00 L460.85,480.00 L460.85,482.00 L460.85,484.00 L460.85,486.00 L460.85,488.00 L460.85,490.00 L460.85,492.00 L460.85,494.00 L460.85,496.00 L460.85,498.00 L460.85,500.00 L460.85,502.00 L460.85,504.00 L460.85,506.00 L460.85,508.00 L460.85,509.98 L460.84,511.92 L460.80,513.79 L460.70,515.61 L460.57,517.39 L460.40,519.12 L460.18,520.79 L459.93,522.42 L459.63,524.01 L459.29,525.54 L458.92,527.03 L458.50,528.47 L458.05,529.86 L457.55,531.21 L457.02,532.51 L456.45,533.76 L455.84,534.97 L455.20,536.13 L454.51,537.25 L453.79,538.33 L453.03,539.36 L452.23,540.35 L451.39,541.30 L450.52,542.22 L449.60,543.09 L448.64,543.92 L447.65,544.71 L446.61,545.47 L445.52,546.19 L444.39,546.87 L443.22,547.51 L442.00,548.11 L440.74,548.68 L439.43,549.21 L438.08,549.70 L436.67,550.15 L435.22,550.56 L433.72,550.94 L432.18,551.27 L430.58,551.56 L428.94,551.81 L427.25,552.02 L425.51,552.19 L423.72,552.32 L421.88,552.40 L419.98,552.44 L418.00,552.46 L416.00,552.48 L414.00,552.50 A3.00,3.00 0 0 0 414.00,558.50 L414.00,558.50 L416.00,558.52 L418.00,558.54 L420.02,558.56 L422.03,558.56 L424.01,558.50 L425.96,558.41 L427.87,558.26 L429.74,558.06 L431.57,557.82 L433.36,557.53 L435.11,557.19 L436.82,556.80 L438.49,556.36 L440.12,555.87 L441.71,555.32 L443.25,554.73 L444.76,554.08 L446.22,553.38 L447.64,552.63 L449.02,551.82 L450.35,550.97 L451.64,550.06 L452.89,549.10 L454.08,548.10 L455.23,547.03 L456.33,545.92 L457.39,544.76 L458.39,543.55 L459.34,542.30 L460.25,540.99 L461.10,539.64 L461.91,538.24 L462.66,536.80 L463.36,535.31 L464.02,533.78 L464.62,532.20 L465.18,530.58 L465.69,528.92 L466.15,527.22 L466.56,525.47 L466.92,523.68 L467.23,521.85 L467.50,519.98 L467.72,518.07 L467.90,516.12 L468.03,514.12 L468.11,512.08 L468.15,510.02 L468.15,508.00 L468.15,506.00 L468.15,504.00 L468.15,502.00 L468.15,500.00 L468.15,498.00 L468.15,496.00 L468.15,494.00 L468.15,492.00 L468.15,490.00 L468.15,488.00 L468.15,486.00 L468.15,484.00 L468.15,482.00 L468.15,480.00 L468.15,478.00 L468.15,476.00 L468.15,474.00 L468.15,472.00 L468.15,470.00 L468.15,468.00 L468.15,466.00 L468.15,464.00 L468.15,462.00 L468.15,460.00 L468.15,458.00 L468.15,456.00 A3.65,3.65 0 0 0 460.85,456.00 Z" fill="#000"/>
<g fill="none" stroke="#000" stroke-linecap="round" stroke-linejoin="round">
<path d="M236,551.7 L261,551.7" stroke-width="5.5"/>
<path d="M329,552.5 L382,553.5" stroke-width="5.5"/>
<path d="M345.5,552 L345.5,490 Q345.5,447 385,447 L403,447" stroke-width="6.5"/>
<path d="M457,447.3 L525,447.5" stroke-width="5.5"/>
<path d="M596,449.7 L612,449.7 A39,40.3 0 0 1 651,490 L650.8,514" stroke-width="6"/>
<path d="M650,544 L649.8,772" stroke-width="7"/>
<path d="M650,557.5 L684,557.5" stroke-width="5.5"/>
<path d="M382.5,554 L413,542.5 L413,566.5 Z" fill="#fff" stroke-width="3.5"/>
<path d="M650.8,514 L664.5,543.5 L635,543.5 Z" fill="#fff" stroke-width="3.6"/>
</g>
<path d="M274,529.5 L317,579.0 M274,578.0 L317,528.5" stroke="#000" stroke-width="3.8" fill="none"/><rect x="261" y="527" width="13.0" height="53.5" rx="2.2" fill="#000"/><rect x="264.6" y="531" width="1.7" height="29.4" fill="#f0f0f0"/><rect x="268.8" y="531" width="1.7" height="29.4" fill="#f0f0f0"/><rect x="317" y="526" width="12.0" height="55.5" rx="2.2" fill="#000"/><rect x="320.4" y="530" width="1.7" height="30.5" fill="#c8c8c8"/><rect x="324.2" y="530" width="1.7" height="30.5" fill="#c8c8c8"/>
<path d="M414,427.5 L446,466.5 M414,465.5 L446,429.5" stroke="#000" stroke-width="3.8" fill="none"/><rect x="403" y="425" width="11.0" height="43.0" rx="2.2" fill="#000"/><rect x="406.1" y="429" width="1.7" height="23.7" fill="#555"/><rect x="409.6" y="429" width="1.7" height="23.7" fill="#555"/><rect x="446" y="427" width="11.5" height="42.0" rx="2.2" fill="#000"/><rect x="449.2" y="431" width="1.7" height="23.1" fill="#c8c8c8"/><rect x="452.9" y="431" width="1.7" height="23.1" fill="#c8c8c8"/>
<path d="M536,429.7 L584.5,468.5 M536,467.5 L584.5,430.5" stroke="#000" stroke-width="3.8" fill="none"/><rect x="524" y="427.2" width="12.0" height="42.8" rx="2.2" fill="#000"/><rect x="527.4" y="431.2" width="1.7" height="23.5" fill="#555"/><rect x="531.2" y="431.2" width="1.7" height="23.5" fill="#555"/><rect x="584.5" y="428" width="11.5" height="43.0" rx="2.2" fill="#000"/><rect x="587.7" y="432" width="1.7" height="23.7" fill="#555"/><rect x="591.4" y="432" width="1.7" height="23.7" fill="#555"/>
<path d="M696,535.0 L746,585.0 M696,583.5 L746,536.5" stroke="#000" stroke-width="3.8" fill="none"/><rect x="684" y="532.5" width="12.0" height="53.5" rx="2.2" fill="#000"/><rect x="687.4" y="536.5" width="1.7" height="29.4" fill="#555"/><rect x="691.2" y="536.5" width="1.7" height="29.4" fill="#555"/><rect x="746" y="534" width="13.0" height="53.5" rx="2.2" fill="#000"/><rect x="749.6" y="538" width="1.7" height="29.4" fill="#c8c8c8"/><rect x="753.8" y="538" width="1.7" height="29.4" fill="#c8c8c8"/>
<rect x="242" y="243" width="10.5" height="39.0" rx="2.2" fill="#000"/>
<rect x="255.5" y="243" width="10.0" height="39.0" rx="2.2" fill="#000"/>
<rect x="251.8" y="250" width="3.5" height="22" fill="#fff"/>
<g fill="none" stroke="#000" stroke-width="3.5" stroke-linejoin="round">
<path d="M90,537 Q97,537 97,530 L98,527"/>
<path d="M135,527 L134,532 Q134,539 142,539 L150,539"/>
<path d="M90,569 L104,569 L113,577 L130,577 L137,569 L150,569"/>
<path d="M106,506 L104,516.5 M133,506 L136,516.5"/>
</g>
<rect x="94" y="516.5" width="49.5" height="11" rx="2" fill="#000"/>
<rect x="93" y="493" width="50.5" height="13" rx="2" fill="#000"/>
<rect x="96" y="498.5" width="44" height="1.6" fill="#e8e8e8"/>
<path d="M112,493 L113,486 Q119,479 126,486 L127,493 Z" fill="#000"/>
<circle cx="120" cy="488" r="1.8" fill="#fff"/>
<rect x="78" y="524" width="12.5" height="54.5" rx="2.2" fill="#000"/><rect x="81.5" y="528" width="1.7" height="30.0" fill="#e8e8e8"/><rect x="85.5" y="528" width="1.7" height="30.0" fill="#e8e8e8"/>
<rect x="149.5" y="524.5" width="11.5" height="54.0" rx="2.2" fill="#000"/><rect x="152.7" y="528.5" width="1.7" height="29.7" fill="#999"/><rect x="156.4" y="528.5" width="1.7" height="29.7" fill="#999"/>
<g fill="none" stroke="#000" stroke-width="3.5" stroke-linejoin="round">
<path d="M161,535 Q171,533 174,524 Q176,519 182,519 L202,519 Q207,519 208,526 Q210,535 218,535 L224,535"/>
<path d="M160,565.5 L167,565 A6.8,9.75 0 0 1 167.5,585"/>
<path d="M224,565.5 L215,565 A6.8,9.75 0 0 0 214.5,585"/>
<path d="M169.5,597 L172.5,602.5 L207.5,602.5 L210.5,597"/>
<rect x="201" y="508.5" width="13.5" height="5.5" stroke-width="2.2"/>
</g>
<rect x="151" y="585.8" width="82.5" height="11.2" rx="2.2" fill="#000"/>
<rect x="154" y="589.8" width="76.5" height="1.6" fill="#f0f0f0"/>
<rect x="154" y="593" width="76.5" height="1.6" fill="#f0f0f0"/>
<rect x="223.5" y="526" width="12.0" height="54.0" rx="2.2" fill="#000"/><rect x="226.9" y="530" width="1.7" height="29.7" fill="#c8c8c8"/><rect x="230.7" y="530" width="1.7" height="29.7" fill="#c8c8c8"/>
<g fill="none" stroke="#000" stroke-width="3.6" stroke-linejoin="round">
<path d="M789,520 Q830,491 868,520"/>
<path d="M786,531 L785.8,589 C789,603 806,614.5 827.5,614.5 C849,614.5 866,603 869.2,591 L869.2,531"/>
<path d="M759,545 L786,545 Q793,545 793,559 Q793,573 786,573 L759,573" fill="#fff"/>
<path d="M899,546 L872,546 Q865,546 865,560.5 Q865,575 872,575 L899,575" fill="#fff"/>
</g>
<rect x="776.5" y="518.5" width="106" height="12.8" rx="2" fill="#000"/>
<rect x="780" y="521.6" width="99" height="1.9" fill="#c4c4c4"/>
<rect x="780" y="526.4" width="99" height="1.9" fill="#c4c4c4"/>
<rect x="899" y="535" width="13.5" height="55.0" rx="2.2" fill="#000"/><rect x="902.8" y="539" width="1.7" height="30.3" fill="#d8d8d8"/><rect x="907.1" y="539" width="1.7" height="30.3" fill="#d8d8d8"/>
<g fill="none" stroke="#000" stroke-width="3.2" stroke-linejoin="round">
<path d="M948,452.5 Q948,450 951,449.5 L960,447.2 Q963,446.8 963,450 L962.5,489 L948,489 Z" fill="#000" stroke="none"/>
<rect x="953.5" y="456" width="4" height="24" rx="2" fill="#fff" stroke="none"/>
<path d="M952.5,488 L954,496.5 L966,489.5" stroke-width="5"/>
</g>
<path d="M299,398.5 L303.5,395.5" stroke="#000" stroke-width="1.8" stroke-linecap="round"/>
<circle cx="146.5" cy="494" r="1.3" fill="#000"/>
<path d="M840,266 L840.5,262 Q845,259.5 850,262 L850.5,266" fill="none" stroke="#000" stroke-width="2.5"/>
<circle cx="847.5" cy="259" r="2.5" fill="#000"/>
<g stroke="#000" stroke-width="2.8" fill="none" stroke-linecap="round">
<path d="M259,233 L255.5,243"/>
<path d="M133,390 L115,482"/>
<path d="M209.5,388.5 L194.5,554"/>
<path d="M274,388.5 L318,527"/>
<path d="M377.7,388.5 L404,427"/>
<path d="M554,392 L538,444"/>
<path d="M773,399 L735,557"/>
<path d="M852,399 L812,547"/>
</g>
<path d="M681.5,15.5 Q664,27 647,32.5 L657.5,36 L661,45 Q670,28 681.5,15.5 Z" fill="#000" stroke="#000" stroke-width="2" stroke-linejoin="round"/>
<path d="M650.5,714 L642,756 L650.5,750 L660,753.5 Z" fill="#000" stroke="#000" stroke-width="1.2" stroke-linejoin="round"/>
<g stroke="#000" fill="none" stroke-linecap="round">
<path d="M611,697 L707,697.5" stroke-width="3.5"/>
<path d="M607,714 L618,700 M617,714 L628,700 M627,714 L638,700 M637,714 L648,700 M657,714 L668,700 M667,714 L678,700 M677,714 L688,700 M687,714 L698,700 M698,714 L709,700 " stroke-width="2.6"/>
</g>
<path d="M591.5,56 L598,55.5 L603.5,59 L604,81 L598,87 L591.5,87 Z" fill="#000"/>
<path d="M609.5,88 L622.5,79.5 L622.5,105.5 L616,103.5 Z" fill="#000"/>
<g stroke="#000" stroke-width="3" fill="none" stroke-linecap="round">
<path d="M621,37 L621,62 M593.5,101 L593.5,127.5"/>
<path d="M610.5,44.5 L620.5,47.5 M604.5,50.5 L620.5,55 M599.5,56.5 L619,62 M599,62.5 L614,67 M599,68.5 L609,71.5 M599,74.5 L604,76"/>
<path d="M600,97.5 L619,102.5 M595.5,103.5 L614.5,108.5 M595.5,110 L608.5,114 M595.5,116.5 L602.5,119"/>
</g>
<path d="M586,102.4 L628,63.4" stroke="#fff" stroke-width="11.4" stroke-linecap="butt"/>
<path d="M585,103.3 L629,62.5" stroke="#000" stroke-width="7.6" stroke-linecap="butt"/>
<g stroke="#000" stroke-width="5" fill="none" stroke-linecap="round" stroke-linejoin="round">
<path d="M263,194.5 L279.5,193.5 L262,207 C270,205 276,207 275.5,213 C275,221 270,226 264,226.5 C259,227 256,225 255,219"/>
<path d="M138,344.5 L127.5,363 L146,363 M149,344.5 L137,373.5"/>
<path d="M229,345 L215.5,345.5 L211.5,360 C216,357.5 222,356.5 225,360 C228,365 224,376 215,376 C211,376 208.5,374.5 207.5,371"/>
<path d="M284.5,349.5 C284,346 282,345 279,345 C273,345 270,352 268,360 C266,368 266,376 272,376 C278,376 283,371 283.5,365 C284,360 281,358 277,358 C273,358 270,361 268.5,364"/>
<path d="M370,350 L389,347.5 Q383,357 372,378"/>
<ellipse cx="562.5" cy="356.5" rx="5" ry="4.8"/>
<ellipse cx="557" cy="371.5" rx="7.5" ry="10" transform="rotate(25 557 371.5)"/>
<path d="M770,366 L782.5,355 L770,384.5"/>
<path d="M842,363 C843,358 847,356.5 852,356.5 C858,357 860,361 858,366 C855,373 845,381 837,389 L855,388.5"/>
</g>
<g font-family="Liberation Sans" font-style="italic" font-weight="bold" fill="#000">
<text transform="translate(674,63) skewX(-9) scale(0.72,1)" x="0" y="0" font-size="41" textLength="152.8" lengthAdjust="spacing" stroke="#000" stroke-width="1.3">Выход</text>
<text transform="translate(676,102) skewX(-9) scale(0.72,1)" x="0" y="0" font-size="45" textLength="113.9" lengthAdjust="spacing" stroke="#000" stroke-width="1.3">газа</text>
<text transform="translate(507,731.7) skewX(-9) scale(0.72,1)" x="0" y="0" font-size="40" textLength="109.7" lengthAdjust="spacing" stroke="#000" stroke-width="1.3">Ввод</text>
<text transform="translate(523,781) skewX(-9) scale(0.72,1)" x="0" y="0" font-size="45" textLength="109.7" lengthAdjust="spacing" stroke="#000" stroke-width="1.3">газа</text>
</g>
</g>
</svg></div></div>
</body></html>
